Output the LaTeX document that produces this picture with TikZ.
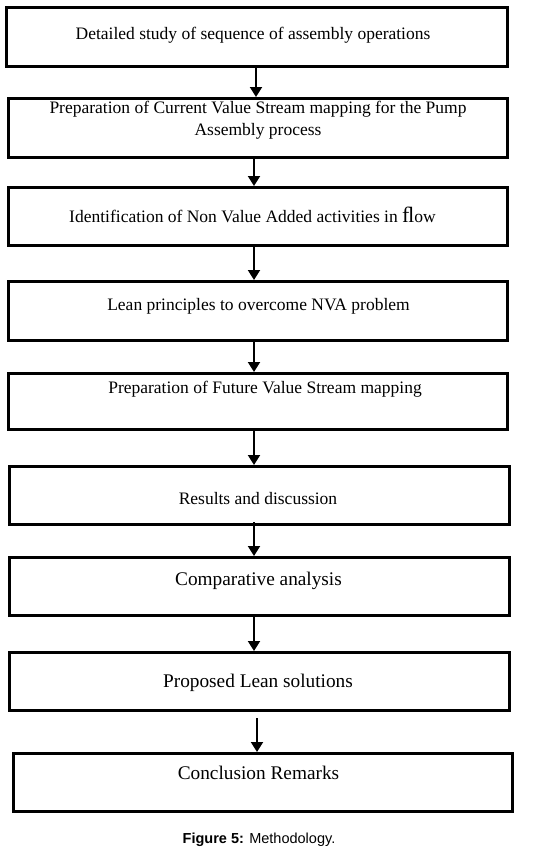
\documentclass[tikz,border=0pt]{standalone}
\usepackage{fontspec}
\setmainfont{Liberation Serif}
\newfontfamily\capfont{Liberation Sans}
\usetikzlibrary{arrows.meta}
\begin{document}
\begin{tikzpicture}[x=1pt,y=-1pt,
  box/.style={draw=black,line width=3pt,inner sep=0pt},
  lbl/.style={anchor=base,inner sep=0pt,font=\fontsize{17.5}{20}\selectfont},
  lblbig/.style={anchor=base,inner sep=0pt,font=\fontsize{19.3}{22}\selectfont},
  arr/.style={line width=2pt,-{Triangle[width=12pt,length=10pt]}}]
\useasboundingbox (0,0) rectangle (542,852);
\fill[white] (0,0) rectangle (542,852);
% boxes
\node[box,minimum width=501pt,minimum height=59pt] (b1) at (257,37) {};
\node[box,minimum width=499pt,minimum height=59pt] (b2) at (258,128) {};
\node[box,minimum width=499pt,minimum height=58pt] (b3) at (258,216.5) {};
\node[box,minimum width=499pt,minimum height=59pt] (b4) at (258,311) {};
\node[box,minimum width=499pt,minimum height=56pt] (b5) at (258,401.5) {};
\node[box,minimum width=500pt,minimum height=58pt] (b6) at (259.5,495.5) {};
\node[box,minimum width=500pt,minimum height=58pt] (b7) at (259.5,586.5) {};
\node[box,minimum width=500pt,minimum height=58pt] (b8) at (259.5,681.5) {};
\node[box,minimum width=499pt,minimum height=58pt] (b9) at (263,782.5) {};
% texts
\node[lbl] (t1) at (253,39) {Detailed study of sequence of assembly operations};
\node[lbl] (t2a) at (258,113) {Preparation of Current Value Stream mapping for the Pump};
\node[lbl] (t2b) at (258,135) {Assembly process};
\node[lbl] (t3) at (252.5,222) {Identification of Non Value Added activities in {\fontsize{22}{22}\selectfont ﬂ}ow};
\node[lbl] (t4) at (258.5,310) {Lean principles to overcome NVA problem};
\node[lbl] (t5) at (265,393) {Preparation of Future Value Stream mapping};
\node[lbl] (t6) at (258,504) {Results and discussion};
\node[lblbig] (t7) at (258.5,585) {Comparative analysis};
\node[lblbig] (t8) at (258,687) {Proposed Lean solutions};
\node[lblbig] (t9) at (258.5,779) {Conclusion Remarks};
\node[anchor=base,inner sep=0pt,font=\capfont\fontsize{14.5}{16}\selectfont] (cap) at (259,843) {\textbf{Figure 5:} Methodology.};
% arrows
\draw[arr] ([xshift=-1pt]b1.south) -- ([xshift=-2pt]b2.north);
\draw[arr] ([xshift=-4pt]b2.south) -- ([xshift=-4pt]b3.north);
\draw[arr] ([xshift=-4pt,yshift=2pt]b3.south) -- ([xshift=-4pt]b4.north);
\draw[arr] ([xshift=-4pt]b4.south) -- ([xshift=-4pt]b5.north);
\draw[arr] ([xshift=-4pt]b5.south) -- ([xshift=-5.5pt]b6.north);
\draw[arr] ([xshift=-5.5pt,yshift=4pt]b6.south) -- ([xshift=-5.5pt]b7.north);
\draw[arr] ([xshift=-5.5pt]b7.south) -- ([xshift=-5.5pt]b8.north);
\draw[arr] ([xshift=-2.5pt,yshift=-6pt]b8.south) -- ([xshift=-6pt]b9.north);
\end{tikzpicture}
\end{document}
